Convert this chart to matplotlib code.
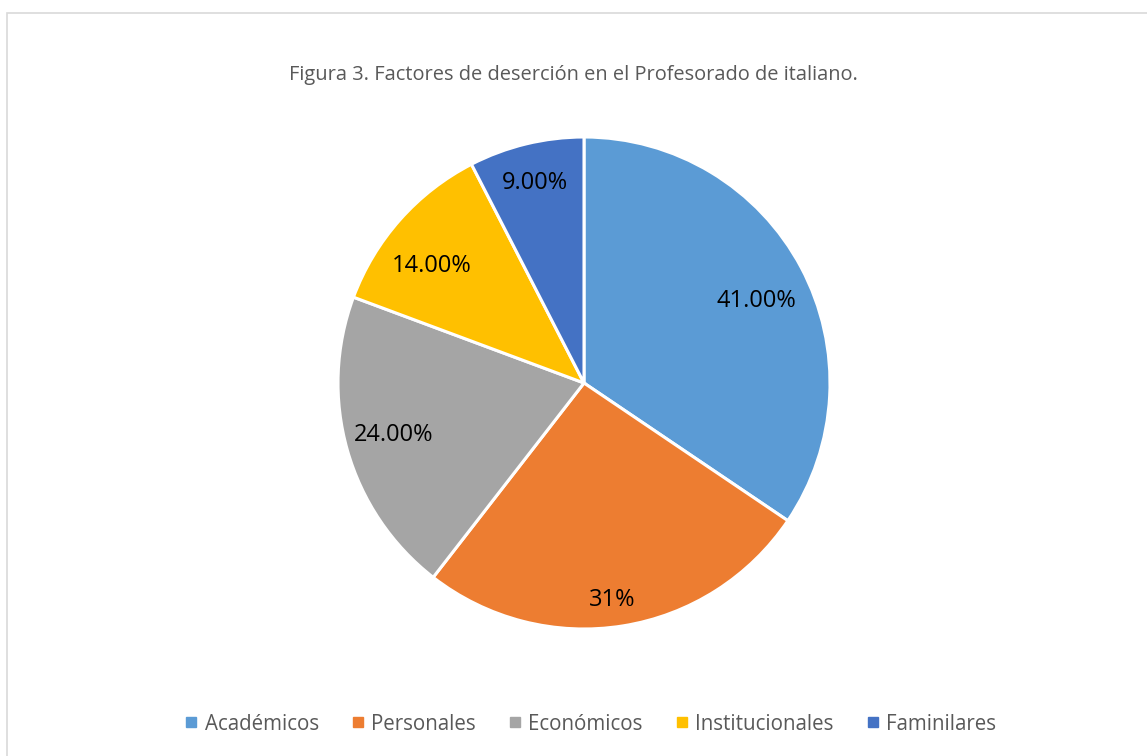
import matplotlib.pyplot as plt
import numpy as np
from matplotlib.patches import Rectangle
from matplotlib.lines import Line2D

plt.rcParams['font.family'] = ['Open Sans', 'DejaVu Sans']

# datos
categorias = ['Académicos', 'Personales', 'Económicos', 'Institucionales', 'Faminilares']
valores = [41, 31, 24, 14, 9]
etiquetas = ['41.00%', '31%', '24.00%', '14.00%', '9.00%']
colores = ['#5B9BD5', '#ED7D31', '#A5A5A5', '#FFC000', '#4472C4']
# posición de las etiquetas: fracción del radio y desvío angular (grados)
dist_etiqueta = [0.78, 0.877, 0.798, 0.787, 0.849]
desvio_ang = [-1.7, -1.6, -1.4, 3.3, 0.0]

W, H = 1147, 756
fig = plt.figure(figsize=(W / 100, H / 100), dpi=100)

# marco del gráfico
fig.patches.append(Rectangle((7 / W, -0.1), 1.2, (H - 13) / H + 0.1, transform=fig.transFigure,
                             fill=False, edgecolor='#D9D9D9', linewidth=1.2))

cx, cy, r = 584, 383, 246
ax = fig.add_axes([(cx - r) / W, (H - cy - r) / H, 2 * r / W, 2 * r / H])
wedges, _ = ax.pie(valores, colors=colores, startangle=90, counterclock=False,
                   wedgeprops=dict(edgecolor='white', linewidth=2.2))
ax.set_xlim(-1, 1)
ax.set_ylim(-1, 1)
ax.set_aspect('equal')

for w, txt, d, da in zip(wedges, etiquetas, dist_etiqueta, desvio_ang):
    ang = np.deg2rad((w.theta1 + w.theta2) / 2 + da)
    ax.text(d * np.cos(ang), d * np.sin(ang) - 0.012, txt, ha='center', va='center',
            fontsize=17, color='black')

fig.text(573.5 / W, (H - 75) / H, 'Figura 3. Factores de deserción en el Profesorado de italiano.',
         ha='center', va='center', fontsize=14.4, color='#595959')

handles = [Line2D([], [], marker='s', linestyle='none', markersize=6.5, color=c) for c in colores]
fig.legend(handles, categorias, loc='center', bbox_to_anchor=(589.5 / W, (H - 724) / H), ncol=5,
           frameon=False, fontsize=14.8, labelcolor='#595959', handlelength=0.8,
           handletextpad=0.25, columnspacing=1.5)

fig.savefig('out.png', dpi=100)
